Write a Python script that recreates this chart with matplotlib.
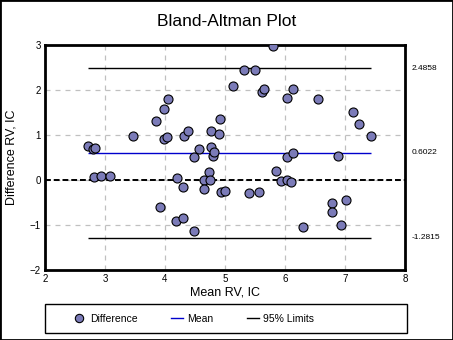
import matplotlib.pyplot as plt
from matplotlib.lines import Line2D
from matplotlib.patches import Rectangle

plt.rcParams["font.family"] = ["Liberation Sans", "DejaVu Sans"]

# Mean of the two methods (x) and their difference (y)
mean_rv = [
    5.80, 5.32, 5.50, 5.13, 5.62, 5.65, 6.13, 6.03, 6.55, 7.13, 7.23, 7.43,
    4.05, 3.98, 3.85, 3.47, 3.98, 4.03, 4.32, 4.38, 4.77, 4.92, 4.90,
    2.72, 2.80, 2.83, 4.57, 4.77, 4.48, 4.80, 4.82,
    2.82, 2.93, 3.08, 4.20, 4.30, 4.73, 4.65, 4.75, 4.65, 4.93, 5.00,
    3.92, 4.18, 4.30, 4.48,
    6.03, 6.13, 6.88, 5.85, 5.93, 6.03, 6.10, 5.40, 5.57,
    6.78, 6.78, 7.02, 6.93, 6.30,
]
diff_rv = [
    2.97, 2.44, 2.44, 2.09, 1.96, 2.02, 2.02, 1.82, 1.80, 1.51, 1.24, 0.98,
    1.80, 1.57, 1.31, 0.98, 0.91, 0.96, 0.98, 1.09, 1.09, 1.36, 1.02,
    0.76, 0.69, 0.71, 0.69, 0.73, 0.51, 0.53, 0.62,
    0.07, 0.09, 0.09, 0.04, -0.16, 0.17, 0.00, 0.00, -0.21, -0.26, -0.24,
    -0.60, -0.91, -0.84, -1.13,
    0.51, 0.60, 0.53, 0.20, -0.02, 0.01, -0.05, -0.29, -0.27,
    -0.51, -0.72, -0.44, -1.00, -1.04,
]

bias = 0.6022
upper_limit = 2.4858
lower_limit = -1.2815

x_ticks = [2, 3, 4, 5, 6, 7, 8]
y_ticks = [-2, -1, 0, 1, 2, 3]

W, H = 453, 340
fig = plt.figure(figsize=(W / 100, H / 100), dpi=100)
fig.patches.append(Rectangle((0, 0), 1, 1, transform=fig.transFigure,
                             fill=False, edgecolor="black", linewidth=2))

ax = fig.add_axes([45 / W, 1 - 270 / H, 360 / W, 225 / H])
ax.set_xlim(2, 8)
ax.set_ylim(-2, 3)
ax.set_xticks(x_ticks)
ax.set_yticks(y_ticks)
ax.tick_params(length=0, labelsize=7, pad=3)
ax.grid(True, color="#c0c0c0", linestyle=(0, (4, 4)), linewidth=0.9)
for s in ax.spines.values():
    s.set_linewidth(2)

ax.axhline(0, color="black", linewidth=1.4, linestyle=(0, (3, 1.5)), zorder=2)

x0, x1 = min(mean_rv), max(mean_rv)
ax.hlines([upper_limit, lower_limit], x0, x1, color="black", linewidth=1, zorder=2)
ax.hlines(bias, x0, x1, color="#0000cc", linewidth=1, zorder=2)

ax.plot(mean_rv, diff_rv, "o", markersize=6.5, markerfacecolor="#7b7bb8",
        markeredgecolor="black", markeredgewidth=0.8, zorder=3)

for v in (upper_limit, bias, lower_limit):
    ax.annotate(f"{v:.4f}", xy=(1, v), xycoords=("axes fraction", "data"),
                xytext=(5, 0), textcoords="offset points",
                fontsize=6, va="center", ha="left")

ax.set_xlabel("Mean RV, IC", fontsize=9, labelpad=2)
ax.set_ylabel("Difference RV, IC", fontsize=9, labelpad=9)
fig.text(0.5, 1 - 21 / H, "Bland-Altman Plot", ha="center", va="center",
         fontsize=12.5)

# legend box spans the plot width, entries sit toward the left
fig.patches.append(Rectangle((45 / W, 1 - 333 / H), 362 / W, 29 / H,
                             transform=fig.transFigure, fill=False,
                             edgecolor="black", linewidth=1))
handles = [
    Line2D([], [], marker="o", linestyle="none", markersize=6,
           markerfacecolor="#7b7bb8", markeredgecolor="black", markeredgewidth=0.8),
    Line2D([], [], color="#0000cc", linewidth=1),
    Line2D([], [], color="black", linewidth=1),
]
fig.legend(handles, ["Difference", "Mean", "95% Limits"], ncol=3,
           loc="center left", bbox_to_anchor=(73 / W, 1 - 319 / H),
           fontsize=7.5, frameon=False, handlelength=1.2, handletextpad=0.4,
           columnspacing=3.2, borderpad=0, borderaxespad=0)

fig.savefig("out.png", dpi=100)
